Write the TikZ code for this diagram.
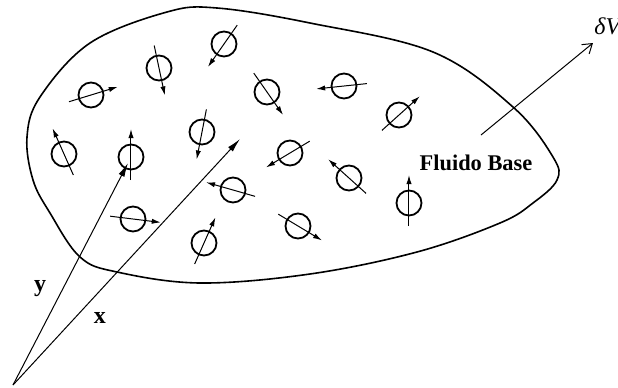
\documentclass[tikz,border=0pt]{standalone}
\usepackage{fontspec}
\setmainfont{Liberation Serif}
\usetikzlibrary{calc,arrows.meta}

\tikzset{
    particula/.style={draw,circle,line width=0.9pt,minimum size=12.5pt,inner sep=0pt},
    spin/.style={line width=0.5pt,-{Latex[length=4.5pt,width=2.6pt]}},
    posicao/.style={line width=0.5pt,-{Latex[length=7pt,width=3.2pt]}},
    rotulo/.style={font=\fontsize{11.2}{13}\selectfont},
}

\begin{document}
\begin{tikzpicture}[x=0.5pt,y=0.5pt]
    \useasboundingbox (0,0) rectangle (618,-387);

    % contorno do fluido
    \draw[line width=0.8pt] plot[smooth cycle,tension=0.6] coordinates {
        (27,-137) (40,-97) (90,-43) (167,-12) (217,-8) (310,-23) (433,-52)
        (513,-107) (553,-157) (557,-180) (533,-203) (500,-223) (417,-252)
        (310,-274) (200,-283) (117,-272) (80,-257) (50,-213) (33,-180)};

    % particulas: x/y/angulo do spin
    \foreach \x/\y/\a [count=\n] in {91/95/17, 159/68/-78, 224/44/-125, 267/92/-55,
        344/86/186, 399/115/42, 64/154/114, 131/157/90, 202/132/-101, 290/153/-149,
        233/190/164, 133/219/-7, 204/243/66, 298/226/-31, 349/178/138, 409/203/90}
    {\node[particula] (p\n) at (\x,-\y) {};
    \draw[spin] ($(p\n)+(\a+180:23)$) -- ($(p\n)+(\a:28)$);}

    % vetores posicao
    \coordinate (O) at (13,-385);
    \coordinate (ytip) at (128,-163);
    \coordinate (xtip) at (240,-139);
    \draw[posicao] (O) -- (ytip);
    \draw[posicao] (O) -- (xtip);
    \node[rotulo,font=\fontsize{12}{14}\selectfont\bfseries] (ylab) at (40,-289) {y};
    \node[rotulo,font=\fontsize{12}{14}\selectfont\bfseries] (xlab) at (100,-318) {x};

    % volume de controle
    \coordinate (dv0) at (481,-135);
    \coordinate (dv1) at (593,-43);
    \node[rotulo,anchor=base west,inner sep=0pt,font=\fontsize{12}{14}\selectfont\itshape] (dV) at (594,-34) {δV};
    \draw[line width=0.5pt,-{Straight Barb[length=4.5pt,width=6pt]}] (dv0) -- (dv1);

    \node[rotulo] (fluido) at (476,-163) {\bfseries Fluido Base};
\end{tikzpicture}
\end{document}
